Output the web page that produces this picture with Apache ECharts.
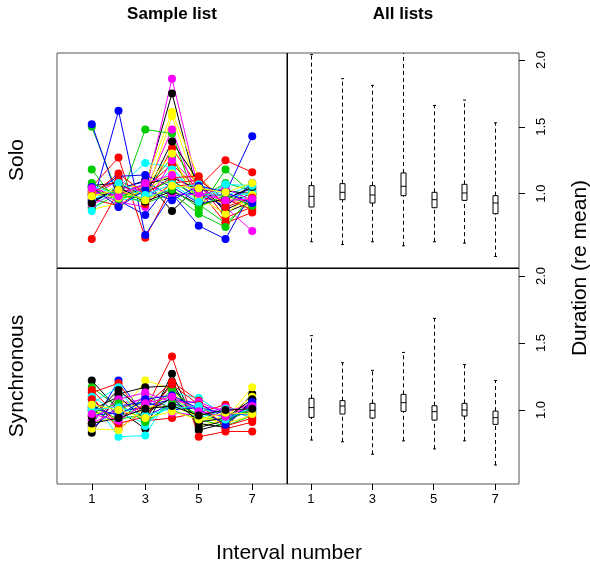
<!DOCTYPE html>
<html>
<head>
<meta charset="utf-8">
<script src="https://cdn.jsdelivr.net/npm/echarts@6/dist/echarts.min.js"></script>
<style>
html, body { margin: 0; padding: 0; background: #fff; }
#chart { width: 590px; height: 567px; }
</style>
</head>
<body>
<div id="chart"></div>
<script>
// interval numbers and tick labels
const intervals = [1, 2, 3, 4, 5, 6, 7];
const xTickValues = [1, 3, 5, 7];
const yTickValues = [1.0, 1.5, 2.0];
// R palette cycle used for the sample lists
const listColors = ['#000000', '#FF0000', '#00CD00', '#0000FF', '#00FFFF', '#FF00FF', '#FFFF00'];

// Solo: durations (re mean) of each sample list, intervals 1..7
const soloLists = [
  [1.02, 0.97, 1.05, 1.75, 0.98, 0.93, 1.00],
  [0.66, 1.02, 0.96, 1.34, 1.05, 1.25, 1.16],
  [1.50, 0.98, 1.03, 1.27, 0.92, 0.78, 0.95],
  [1.52, 0.95, 0.84, 1.10, 0.97, 1.00, 1.43],
  [0.92, 1.05, 1.23, 1.20, 0.95, 1.03, 0.98],
  [0.98, 1.10, 1.00, 1.86, 1.02, 0.90, 0.72],
  [0.88, 0.93, 1.08, 1.61, 1.12, 0.95, 1.05],
  [0.95, 1.03, 1.10, 0.87, 1.06, 0.88, 0.97],
  [1.05, 1.27, 0.67, 1.05, 1.08, 0.82, 0.90],
  [1.18, 0.92, 1.48, 1.45, 0.88, 1.18, 1.00],
  [0.90, 1.62, 0.69, 1.00, 0.76, 0.66, 1.02],
  [1.00, 0.96, 0.95, 1.15, 1.00, 0.98, 1.07],
  [0.93, 1.05, 1.02, 1.48, 0.94, 1.00, 0.92],
  [1.03, 0.98, 0.97, 1.58, 1.00, 0.92, 1.03],
  [1.06, 1.08, 0.98, 1.39, 1.09, 0.86, 0.94],
  [0.96, 0.91, 1.04, 1.22, 1.03, 0.78, 0.86],
  [0.89, 1.00, 0.93, 1.00, 0.85, 0.75, 0.99],
  [1.00, 1.13, 1.14, 1.05, 0.93, 0.96, 1.04],
  [0.96, 1.02, 1.00, 1.18, 0.98, 1.05, 0.93],
  [1.02, 0.94, 0.90, 1.25, 1.05, 0.93, 0.97],
  [0.97, 1.06, 1.05, 1.30, 0.90, 0.98, 0.89],
  [0.99, 1.00, 1.07, 1.12, 1.03, 1.02, 1.00],
  [1.01, 1.10, 0.92, 1.08, 1.10, 0.96, 0.88],
  [1.04, 0.96, 1.01, 1.10, 0.96, 1.08, 1.02],
  [0.94, 1.04, 1.09, 0.98, 1.01, 0.90, 1.08],
  [1.06, 0.99, 0.97, 1.04, 1.07, 0.97, 1.01],
  [0.92, 1.01, 1.06, 1.00, 0.99, 1.04, 0.95],
  [1.00, 0.97, 1.02, 1.15, 0.97, 0.85, 0.99],
  [0.93, 1.05, 0.94, 1.02, 0.92, 0.96, 1.05],
  [0.99, 1.15, 1.00, 1.12, 1.13, 0.90, 0.97],
  [1.08, 0.99, 0.96, 1.03, 0.90, 0.99, 0.91],
  [1.05, 0.90, 1.03, 0.95, 1.06, 1.01, 0.93],
  [0.87, 1.08, 0.99, 1.07, 0.94, 1.07, 1.06],
  [1.04, 0.98, 1.08, 1.14, 1.00, 0.95, 0.96],
  [0.98, 1.03, 0.95, 1.06, 1.04, 1.01, 1.08]
];

// Synchronous: durations (re mean) of each sample list
const syncLists = [
  [1.22, 1.00, 0.86, 1.27, 0.85, 0.90, 1.12],
  [1.10, 0.86, 1.00, 1.40, 0.80, 0.84, 0.84],
  [1.17, 1.02, 1.05, 1.10, 0.95, 0.92, 1.00],
  [0.88, 1.22, 0.95, 1.05, 1.00, 0.90, 1.06],
  [1.08, 0.80, 0.81, 1.13, 1.09, 0.96, 0.98],
  [0.93, 1.05, 1.08, 1.02, 1.03, 1.00, 1.03],
  [0.90, 0.95, 1.22, 1.16, 0.88, 0.93, 1.17],
  [0.83, 1.12, 1.17, 1.18, 0.90, 0.87, 1.08],
  [1.13, 1.20, 0.92, 0.94, 0.98, 1.04, 0.93],
  [1.00, 0.90, 1.12, 1.00, 0.93, 0.88, 0.96],
  [0.96, 0.98, 1.03, 1.08, 1.05, 0.94, 1.01],
  [1.05, 1.17, 0.88, 1.07, 1.00, 0.99, 0.95],
  [0.90, 1.00, 1.10, 0.98, 0.96, 1.02, 0.98],
  [0.95, 1.07, 1.00, 1.12, 0.92, 0.95, 1.10],
  [1.00, 1.10, 0.93, 1.21, 0.87, 0.92, 1.04],
  [1.15, 0.95, 1.03, 1.21, 1.07, 0.86, 0.91],
  [1.03, 0.93, 0.97, 1.15, 0.98, 0.91, 1.02],
  [0.86, 1.03, 1.06, 1.00, 1.02, 0.97, 0.97],
  [1.10, 0.98, 0.90, 1.04, 0.94, 1.01, 1.00],
  [0.92, 1.08, 1.13, 1.06, 1.06, 0.98, 1.05],
  [0.86, 0.85, 1.02, 1.03, 0.95, 0.90, 0.96],
  [0.95, 1.15, 0.98, 1.09, 0.91, 0.94, 1.08],
  [1.08, 0.90, 0.95, 1.19, 1.04, 0.88, 0.94],
  [0.98, 1.05, 0.91, 1.05, 0.97, 0.96, 0.99],
  [1.02, 0.96, 1.08, 1.11, 1.01, 0.89, 1.06],
  [1.00, 1.02, 0.96, 1.01, 1.03, 0.93, 1.02],
  [0.97, 0.92, 1.05, 1.10, 0.99, 0.95, 1.03],
  [1.04, 1.00, 0.94, 0.99, 0.93, 0.98, 0.97],
  [0.90, 0.94, 1.01, 1.03, 0.96, 1.00, 1.01]
];

// All lists: [min, q1, median, q3, max] per interval
const soloBoxes = [
  [0.64, 0.90, 0.98, 1.06, 2.04],
  [0.62, 0.955, 1.01, 1.075, 1.86],
  [0.64, 0.93, 0.99, 1.06, 1.81],
  [0.61, 0.985, 1.055, 1.155, 2.10],
  [0.64, 0.895, 0.955, 1.01, 1.66],
  [0.63, 0.95, 1.005, 1.07, 1.70],
  [0.53, 0.85, 0.93, 0.985, 1.53]
];
const syncBoxes = [
  [0.776, 0.945, 1.018, 1.087, 1.555],
  [0.763, 0.97, 1.03, 1.07, 1.353],
  [0.67, 0.94, 0.998, 1.05, 1.296],
  [0.77, 0.99, 1.055, 1.117, 1.43],
  [0.71, 0.925, 0.988, 1.032, 1.684],
  [0.77, 0.955, 1.0, 1.05, 1.34],
  [0.59, 0.893, 0.943, 0.992, 1.22]
];

const fontFamily = '"Liberation Sans", Arial, Helvetica, sans-serif';
const chart = echarts.init(document.getElementById('chart'));

const grids = [
  { left: 57, top: 53, width: 230, height: 215 },
  { left: 287, top: 53, width: 232, height: 215 },
  { left: 57, top: 268, width: 230, height: 216 },
  { left: 287, top: 268, width: 232, height: 216 }
].map(g => Object.assign(g, { show: true, borderColor: '#555', borderWidth: 1 }));

const makeX = (gridIndex, isLeft, isBottom) => ({
  type: 'value',
  gridIndex: gridIndex,
  min: isLeft ? -0.3 : 0.22,
  max: isLeft ? 8.3 : 7.78,
  splitLine: { show: false },
  axisLine: { show: false },
  axisTick: { show: isBottom, customValues: xTickValues, length: 6, lineStyle: { color: '#000' } },
  axisLabel: {
    show: isBottom, customValues: xTickValues, margin: 9,
    color: '#000', fontSize: 13, fontFamily: fontFamily
  }
});

const makeY = (gridIndex, isRight, isTop) => ({
  type: 'value',
  gridIndex: gridIndex,
  position: 'right',
  min: isTop ? 0.444 : 0.448,
  max: isTop ? 2.052 : 2.06,
  splitLine: { show: false },
  axisLine: { show: false },
  axisTick: { show: isRight, customValues: yTickValues, length: 6, lineStyle: { color: '#000' } },
  axisLabel: {
    show: isRight, customValues: yTickValues, rotate: 90, margin: 16,
    color: '#000', fontSize: 13, fontFamily: fontFamily,
    formatter: v => v.toFixed(1)
  }
});

const lineSeries = (lists, axisIndex) => lists.map((list, i) => ({
  type: 'line',
  xAxisIndex: axisIndex,
  yAxisIndex: axisIndex,
  data: intervals.map((x, j) => [x, list[j]]),
  symbol: 'circle',
  symbolSize: 8,
  showSymbol: true,
  color: listColors[i % listColors.length],
  lineStyle: { width: 1 },
  itemStyle: { borderWidth: 0 },
  silent: true,
  animation: false
}));

// box with dashed whiskers, like R's boxplot
function renderBox(params, api) {
  const x = api.value(0);
  const lo = api.coord([x, api.value(1)]);
  const q1 = api.coord([x, api.value(2)]);
  const med = api.coord([x, api.value(3)]);
  const q3 = api.coord([x, api.value(4)]);
  const hi = api.coord([x, api.value(5)]);
  const cx = Math.round(lo[0]) + 0.5;
  const hw = 2.5;
  const dash = { stroke: '#000', lineWidth: 1, lineDash: [4, 3] };
  const solid = { stroke: '#000', lineWidth: 1 };
  return {
    type: 'group',
    children: [
      { type: 'line', shape: { x1: cx, y1: lo[1], x2: cx, y2: q1[1] }, style: dash },
      { type: 'line', shape: { x1: cx, y1: q3[1], x2: cx, y2: hi[1] }, style: dash },
      { type: 'line', shape: { x1: cx - 1.5, y1: lo[1], x2: cx + 1.5, y2: lo[1] }, style: solid },
      { type: 'line', shape: { x1: cx - 1.5, y1: hi[1], x2: cx + 1.5, y2: hi[1] }, style: solid },
      { type: 'rect', shape: { x: cx - hw, y: q3[1], width: hw * 2, height: q1[1] - q3[1] },
        style: { fill: '#fff', stroke: '#000', lineWidth: 1 } },
      { type: 'line', shape: { x1: cx - hw, y1: med[1], x2: cx + hw, y2: med[1] }, style: solid }
    ]
  };
}

const boxSeries = (boxes, axisIndex) => ({
  type: 'custom',
  xAxisIndex: axisIndex,
  yAxisIndex: axisIndex,
  data: boxes.map((b, i) => [intervals[i]].concat(b)),
  encode: { x: 0, y: [1, 2, 3, 4, 5] },
  renderItem: renderBox,
  clip: true,
  silent: true,
  animation: false
});

const textStyle = (size, weight) => ({
  fill: '#000', font: weight + ' ' + size + 'px ' + fontFamily,
  align: 'center', verticalAlign: 'middle'
});

const option = {
  backgroundColor: '#fff',
  animation: false,
  grid: grids,
  xAxis: [makeX(0, true, false), makeX(1, false, false), makeX(2, true, true), makeX(3, false, true)],
  yAxis: [makeY(0, false, true), makeY(1, true, true), makeY(2, false, false), makeY(3, true, false)],
  series: [].concat(
    lineSeries(soloLists, 0),
    lineSeries(syncLists, 2),
    [boxSeries(soloBoxes, 1), boxSeries(syncBoxes, 3)]
  ),
  graphic: [
    { type: 'line', z: 100, shape: { x1: 287.5, y1: 53, x2: 287.5, y2: 484 }, style: { stroke: '#000', lineWidth: 1 } },
    { type: 'line', z: 100, shape: { x1: 57, y1: 268.5, x2: 519, y2: 268.5 }, style: { stroke: '#000', lineWidth: 1 } },
    { type: 'text', x: 172, y: 14, style: Object.assign({ text: 'Sample list' }, textStyle(17, 'bold')) },
    { type: 'text', x: 403, y: 14, style: Object.assign({ text: 'All lists' }, textStyle(17, 'bold')) },
    { type: 'text', x: 17, y: 160, rotation: Math.PI / 2, style: Object.assign({ text: 'Solo' }, textStyle(21, 'normal')) },
    { type: 'text', x: 17, y: 376, rotation: Math.PI / 2, style: Object.assign({ text: 'Synchronous' }, textStyle(21, 'normal')) },
    { type: 'text', x: 580, y: 268, rotation: Math.PI / 2, style: Object.assign({ text: 'Duration (re mean)' }, textStyle(21, 'normal')) },
    { type: 'text', x: 289, y: 553, style: Object.assign({ text: 'Interval number' }, textStyle(21, 'normal')) }
  ]
};

chart.setOption(option);
</script>
</body>
</html>
